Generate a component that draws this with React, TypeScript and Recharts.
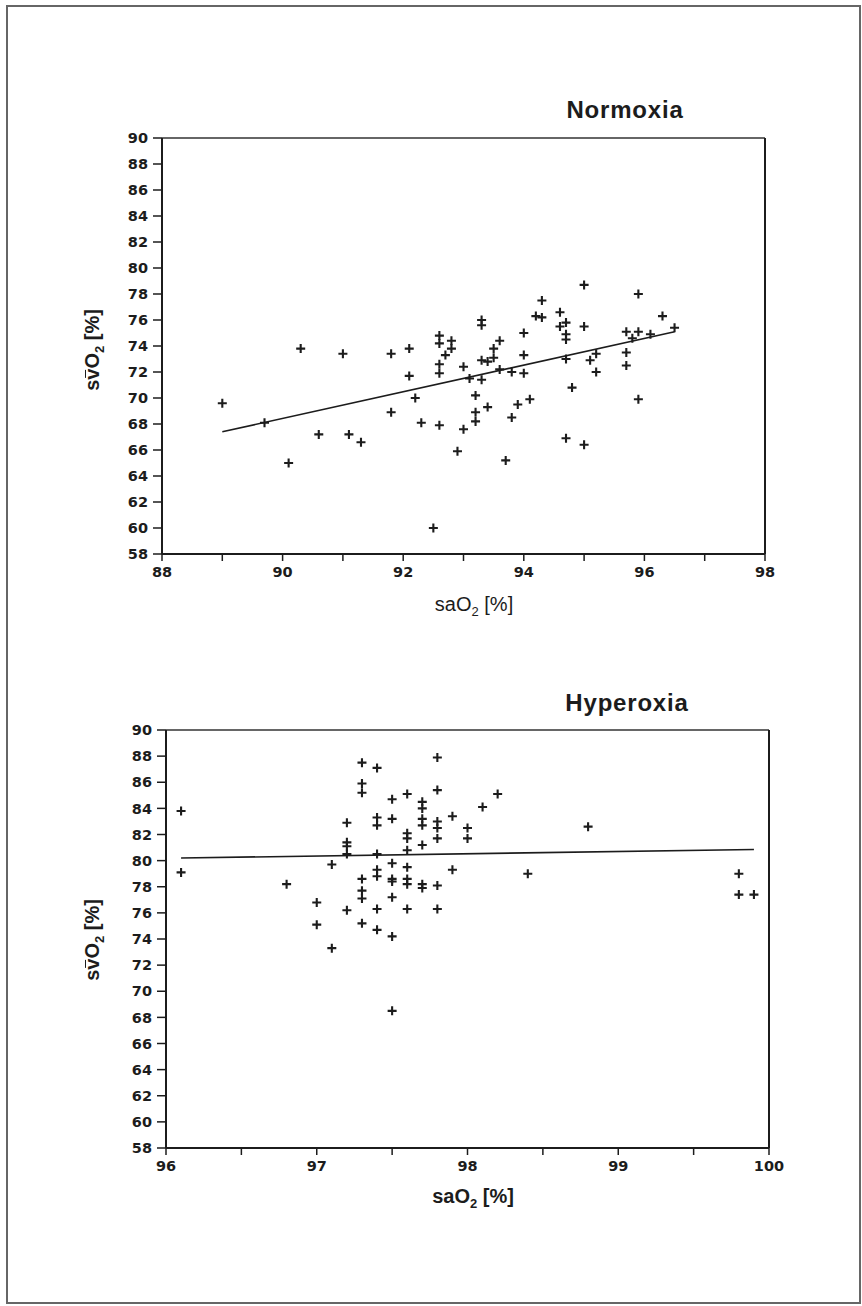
import React from 'react';
import {
  ScatterChart,
  Scatter,
  XAxis,
  YAxis,
  ReferenceLine,
} from 'recharts';

// Normoxia: arterial vs mixed venous saturation
const normoxiaSaO2 = [
  89.0, 89.7, 90.1, 90.3, 90.6, 91.0, 91.1, 91.3, 91.8, 91.8,
  92.1, 92.1, 92.2, 92.3, 92.5, 92.6, 92.6, 92.6, 92.6, 92.6,
  92.7, 92.8, 92.8, 92.9, 93.0, 93.0, 93.1, 93.2, 93.2, 93.2,
  93.3, 93.3, 93.3, 93.3, 93.4, 93.4, 93.5, 93.5, 93.6, 93.6,
  93.7, 93.8, 93.8, 93.9, 94.0, 94.0, 94.0, 94.1, 94.2, 94.3,
  94.3, 94.6, 94.6, 94.7, 94.7, 94.7, 94.7, 94.7, 94.8, 95.0,
  95.0, 95.0, 95.1, 95.2, 95.2, 95.7, 95.7, 95.7, 95.8, 95.9,
  95.9, 95.9, 96.1, 96.3, 96.5,
];
const normoxiaSvO2 = [
  69.6, 68.1, 65.0, 73.8, 67.2, 73.4, 67.2, 66.6, 73.4, 68.9,
  73.8, 71.7, 70.0, 68.1, 60.0, 74.8, 74.2, 72.6, 71.9, 67.9,
  73.3, 74.4, 73.8, 65.9, 72.4, 67.6, 71.5, 70.2, 68.9, 68.2,
  76.0, 75.6, 72.9, 71.4, 72.8, 69.3, 73.1, 73.8, 74.4, 72.2,
  65.2, 72.0, 68.5, 69.5, 75.0, 73.3, 71.9, 69.9, 76.3, 76.2,
  77.5, 76.6, 75.5, 75.8, 74.9, 74.5, 73.0, 66.9, 70.8, 78.7,
  75.5, 66.4, 72.9, 73.4, 72.0, 75.1, 73.5, 72.5, 74.6, 78.0,
  75.1, 69.9, 74.9, 76.3, 75.4,
];
const normoxiaFitX = [89.0, 96.5];
const normoxiaFitY = [67.4, 75.1];

// Hyperoxia
const hyperoxiaSaO2 = [
  96.1, 96.1, 96.8, 97.0, 97.0, 97.1, 97.1, 97.2, 97.2, 97.2,
  97.2, 97.2, 97.3, 97.3, 97.3, 97.3, 97.3, 97.3, 97.3, 97.4,
  97.4, 97.4, 97.4, 97.4, 97.4, 97.4, 97.4, 97.5, 97.5, 97.5,
  97.5, 97.5, 97.5, 97.5, 97.5, 97.6, 97.6, 97.6, 97.6, 97.6,
  97.6, 97.6, 97.6, 97.7, 97.7, 97.7, 97.7, 97.7, 97.7, 97.7,
  97.8, 97.8, 97.8, 97.8, 97.8, 97.8, 97.8, 97.9, 97.9, 98.0,
  98.0, 98.1, 98.2, 98.4, 98.8, 99.8, 99.8, 99.9,
];
const hyperoxiaSvO2 = [
  83.8, 79.1, 78.2, 76.8, 75.1, 79.7, 73.3, 82.9, 81.4, 81.1,
  80.5, 76.2, 87.5, 85.9, 85.2, 78.6, 77.7, 77.1, 75.2, 87.1,
  83.3, 82.7, 80.5, 79.3, 78.8, 76.3, 74.7, 84.7, 83.2, 79.8,
  78.6, 78.4, 77.2, 74.2, 68.5, 85.1, 82.1, 81.7, 80.8, 79.5,
  78.6, 78.2, 76.3, 84.5, 84.0, 83.2, 82.7, 81.2, 78.2, 77.9,
  87.9, 85.4, 83.0, 82.5, 81.7, 78.1, 76.3, 83.4, 79.3, 82.5,
  81.7, 84.1, 85.1, 79.0, 82.6, 79.0, 77.4, 77.4,
];
const hyperoxiaFitX = [96.1, 99.9];
const hyperoxiaFitY = [80.2, 80.85];

const yTicks = [58, 60, 62, 64, 66, 68, 70, 72, 74, 76, 78, 80, 82, 84, 86, 88, 90];
const normoxiaXTicks = [88, 89, 90, 91, 92, 93, 94, 95, 96, 97, 98];
const hyperoxiaXTicks = [96, 96.5, 97, 97.5, 98, 98.5, 99, 99.5, 100];

const toPoints = (xs: number[], ys: number[]) => xs.map((x, i) => ({ x, y: ys[i] }));

const INK = '#1c1c1c';
const tickFont = { fill: INK, fontSize: 14.5, fontWeight: 700, fontFamily: 'DejaVu Sans' };

const Plus = (props: any) => {
  const { cx, cy } = props;
  if (cx == null || cy == null) return <g />;
  return (
    <path
      d={`M${cx - 4.5},${cy}H${cx + 4.5}M${cx},${cy - 4.5}V${cy + 4.5}`}
      stroke={INK}
      strokeWidth={2.1}
    />
  );
};

const NoDot = () => <g />;

interface PanelProps {
  top: number;
  marginLeft: number;
  marginTop: number;
  plotHeight: number;
  xDomain: [number, number];
  xTicks: number[];
  xLabel: (v: number) => string;
  points: { x: number; y: number }[];
  fit: { x: number; y: number }[];
}

const W = 862;
const H = 640;

const Panel: React.FC<PanelProps> = ({ top, marginLeft, marginTop, plotHeight, xDomain, xTicks, xLabel, points, fit }) => {
  const xAxisH = 40;
  return (
    <div style={{ position: 'absolute', left: 0, top }}>
      <ScatterChart
        width={W}
        height={H}
        margin={{ top: marginTop, right: W - 765 - (marginLeft - 102), left: marginLeft, bottom: H - marginTop - plotHeight - xAxisH }}
      >
        <XAxis
          type="number"
          dataKey="x"
          domain={xDomain}
          ticks={xTicks}
          interval={0}
          tickFormatter={xLabel}
          height={xAxisH}
          tick={tickFont}
          tickSize={7}
          tickMargin={6}
          tickLine={{ stroke: INK, strokeWidth: 1.5 }}
          axisLine={{ stroke: INK, strokeWidth: 2 }}
          allowDataOverflow
        />
        <YAxis
          type="number"
          dataKey="y"
          domain={[58, 90]}
          ticks={yTicks}
          interval={0}
          width={60}
          tick={tickFont}
          tickSize={9}
          tickMargin={5}
          tickLine={{ stroke: INK, strokeWidth: 1.5 }}
          axisLine={{ stroke: INK, strokeWidth: 2 }}
          allowDataOverflow
        />
        {/* frame: top and right edges */}
        <ReferenceLine y={90} stroke="#333" strokeWidth={1.5} />
        <ReferenceLine x={xDomain[1]} stroke={INK} strokeWidth={2} />
        <Scatter data={points} shape={Plus} isAnimationActive={false} />
        <Scatter
          data={fit}
          shape={NoDot}
          line={{ stroke: INK, strokeWidth: 1.6 }}
          isAnimationActive={false}
        />
      </ScatterChart>
    </div>
  );
};

const label: React.CSSProperties = {
  position: 'absolute',
  fontFamily: '"Liberation Sans", Arial, sans-serif',
  color: INK,
  whiteSpace: 'nowrap',
  transform: 'translate(-50%, -50%)',
};

// v with a bar sitting just above it (mean venous)
const VBar = () => (
  <span style={{ position: 'relative' }}>
    v
    <span
      style={{
        position: 'absolute',
        left: '0.08em',
        right: '0.08em',
        top: '0.22em',
        borderTop: '1.6px solid ' + INK,
      }}
    />
  </span>
);

const Svo2Title = () => (
  <>
    s<VBar />O<sub style={{ fontSize: '0.65em' }}>2</sub> [%]
  </>
);

const Sao2Title = () => (
  <>
    saO<sub style={{ fontSize: '0.65em' }}>2</sub> [%]
  </>
);

export default function App() {
  return (
    <div style={{ position: 'absolute', left: 0, top: 0, width: 862, height: 1306, background: '#fff' }}>
      <div
        style={{
          position: 'absolute',
          left: 6,
          top: 5,
          width: 855,
          height: 1299,
          boxSizing: 'border-box',
          border: '2px solid #666',
        }}
      />

      <Panel
        top={0}
        marginLeft={102}
        marginTop={138}
        plotHeight={416}
        xDomain={[88, 98]}
        xTicks={normoxiaXTicks}
        xLabel={(v) => (v % 2 === 0 ? String(v) : '')}
        points={toPoints(normoxiaSaO2, normoxiaSvO2)}
        fit={toPoints(normoxiaFitX, normoxiaFitY)}
      />
      <div style={{ ...label, left: 625, top: 110, fontSize: 24, fontWeight: 700, letterSpacing: 0.8 }}>Normoxia</div>
      <div style={{ ...label, left: 94, top: 350, fontSize: 20, fontWeight: 700, transform: 'translate(-50%, -50%) rotate(-90deg)' }}>
        <Svo2Title />
      </div>
      <div style={{ ...label, left: 474, top: 606, fontSize: 20 }}>
        <Sao2Title />
      </div>

      <Panel
        top={600}
        marginLeft={106}
        marginTop={130}
        plotHeight={418}
        xDomain={[96, 100]}
        xTicks={hyperoxiaXTicks}
        xLabel={(v) => (Number.isInteger(v) ? String(v) : '')}
        points={toPoints(hyperoxiaSaO2, hyperoxiaSvO2)}
        fit={toPoints(hyperoxiaFitX, hyperoxiaFitY)}
      />
      <div style={{ ...label, left: 627, top: 703, fontSize: 24, fontWeight: 700, letterSpacing: 0.8 }}>Hyperoxia</div>
      <div style={{ ...label, left: 94, top: 940, fontSize: 20, fontWeight: 700, transform: 'translate(-50%, -50%) rotate(-90deg)' }}>
        <Svo2Title />
      </div>
      <div style={{ ...label, left: 473, top: 1198, fontSize: 20, fontWeight: 700 }}>
        <Sao2Title />
      </div>
    </div>
  );
}
